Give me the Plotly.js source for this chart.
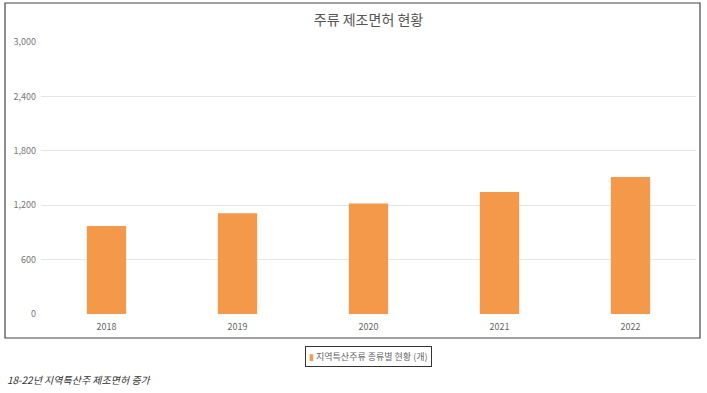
<!DOCTYPE html>
<html>
<head>
<meta charset="utf-8">
<script src="https://cdn.plot.ly/plotly-3.0.1.min.js"></script>
<style>html,body{margin:0;padding:0;background:#fff;}#chart{width:707px;height:393px;}</style>
</head>
<body>
<div id="chart"></div>
<script>
const years = ['2018', '2019', '2020', '2021', '2022'];
const licenses = [970, 1110, 1220, 1345, 1510];
const yTicks = [0, 600, 1200, 1800, 2400, 3000];
const gridTicks = [600, 1200, 1800, 2400];
const seriesName = '지역특산주류 종류별 현황 (개)';
const chartTitle = '주류 제조면허 현황';
const caption = '18-22년 지역특산주 제조면허 증가';

const font = '"Noto Sans CJK KR", "Noto Sans", sans-serif';
const barColor = '#F4994A';

const data = [{
  type: 'bar',
  x: years,
  y: licenses,
  name: seriesName,
  marker: {color: barColor},
  width: 0.3,
  showlegend: false
}, {
  type: 'scatter', x: years, y: [null, null, null, null, null],
  yaxis: 'y2', showlegend: false, hoverinfo: 'skip'
}];

const px2x = p => (p - 41) / 655;
const px2y = p => (314 - p) / 272;

const layout = {
  width: 707,
  height: 393,
  margin: {l: 41, r: 11, t: 42, b: 79},
  paper_bgcolor: '#ffffff',
  plot_bgcolor: '#ffffff',
  font: {family: font, color: '#666'},
  title: {
    text: chartTitle,
    font: {family: font, size: 14, color: '#555'},
    x: 0.5, xref: 'paper', xanchor: 'center',
    y: 1 - 20 / 393, yanchor: 'middle'
  },
  showlegend: false,
  xaxis: {
    type: 'category',
    showgrid: false,
    zeroline: false,
    showline: false,
    ticks: '',
    tickfont: {size: 9, color: '#666'},
    ticklabelstandoff: 6,
    fixedrange: true
  },
  yaxis: {
    range: [0, 3000],
    tickvals: yTicks,
    tickformat: ',',
    showgrid: false,
    zeroline: false,
    showline: false,
    ticks: '',
    tickfont: {size: 9, color: '#777'},
    ticklabelstandoff: 4,
    fixedrange: true
  },
  yaxis2: {
    range: [0, 3000],
    overlaying: 'y',
    tickvals: gridTicks,
    showticklabels: false,
    showgrid: true,
    gridcolor: '#e6e6e6',
    gridwidth: 1,
    zeroline: false,
    showline: false,
    ticks: '',
    fixedrange: true
  },
  shapes: [{
    type: 'rect',
    xref: 'paper', yref: 'paper',
    x0: px2x(5), x1: px2x(700),
    y0: px2y(338), y1: px2y(3),
    line: {color: '#444', width: 1.2},
    fillcolor: 'rgba(0,0,0,0)',
    layer: 'below'
  }],
  annotations: [{
    text: '<span style="color:' + barColor + '">▮</span> ' + seriesName,
    xref: 'paper', yref: 'paper',
    x: px2x(368), xanchor: 'center',
    y: px2y(356), yanchor: 'middle',
    showarrow: false,
    bordercolor: '#333', borderwidth: 1, borderpad: 3,
    bgcolor: '#fff',
    font: {family: font, size: 9, color: '#666'}
  }, {
    text: '<i>' + caption + '</i>',
    xref: 'paper', yref: 'paper',
    x: px2x(5), xanchor: 'left',
    y: px2y(379), yanchor: 'middle',
    showarrow: false,
    font: {family: font, size: 10, color: '#333'}
  }],
  bargap: 0.7
};

Plotly.newPlot('chart', data, layout, {displayModeBar: false, staticPlot: true});
</script>
</body>
</html>
